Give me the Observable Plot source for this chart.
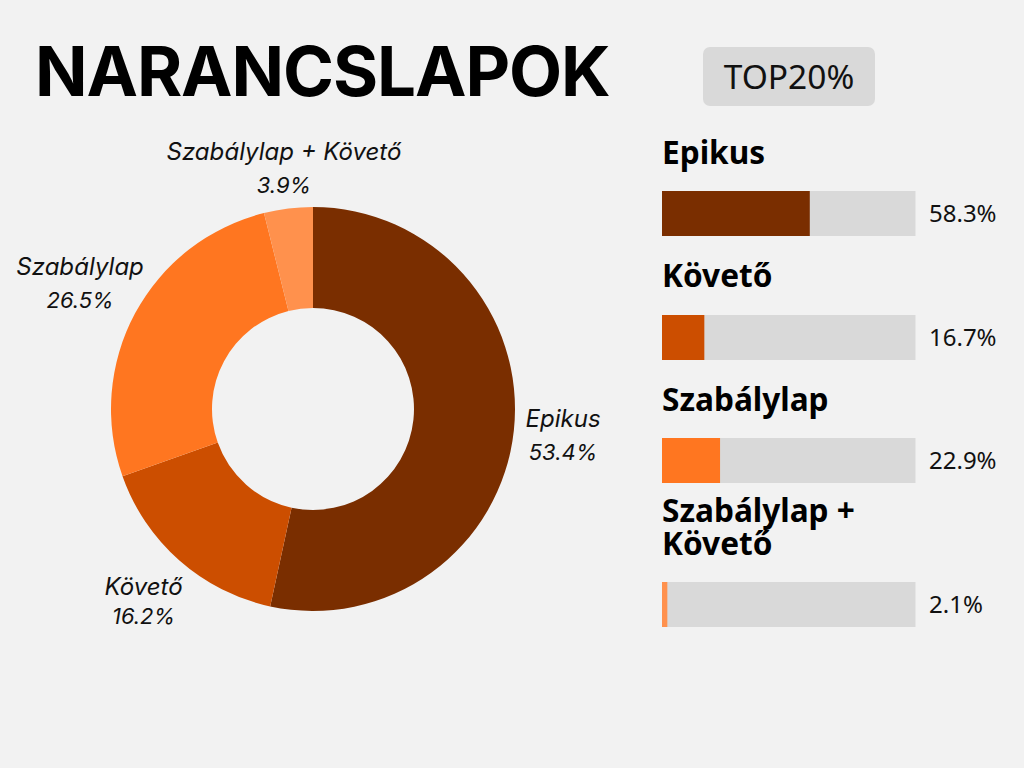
<!DOCTYPE html>
<html lang="hu">
<head>
<meta charset="utf-8">
<title>NARANCSLAPOK</title>
<script src="https://cdn.jsdelivr.net/npm/d3@7"></script>
<script src="https://cdn.jsdelivr.net/npm/@observablehq/plot@0.6"></script>
<style>
html,body{margin:0;padding:0;background:#f2f2f2;}
#page{position:relative;width:1024px;height:768px;background:#f2f2f2;overflow:hidden;color:#000;}
#page > *{position:absolute;}
#title{left:35px;top:26px;font:700 69px/90px Inter,sans-serif;letter-spacing:-1.1px;white-space:nowrap;}
#badge{left:703px;top:47px;width:172px;height:59px;border-radius:7px;background:#d9d9d9;font:400 33.5px/59px "Noto Sans",sans-serif;text-align:center;color:#111;}
.h{left:662px;font:700 31.6px/33px "Noto Sans",sans-serif;white-space:nowrap;}
svg{background:transparent;display:block;}
</style>
</head>
<body>
<div id="page">
  <div id="title"></div>
  <div id="badge"></div>
</div>
<script>
// Data
const titleText = "NARANCSLAPOK";
const badgeText = "TOP20%";
const categories = ["Epikus", "Követő", "Szabálylap", "Szabálylap + Követő"];
const donutValues = [53.4, 16.2, 26.5, 3.9];
const barValues = [58.3, 16.7, 22.9, 2.1];
const colors = ["#7a2e00", "#cc4e00", "#ff7620", "#ff914d"];
const headings = [["Epikus"], ["Követő"], ["Szabálylap"], ["Szabálylap +", "Követő"]];

// Layout
const page = document.getElementById("page");
document.getElementById("title").textContent = titleText;
document.getElementById("badge").textContent = badgeText;
const trackColor = "#d9d9d9";
const labelFont = "Inter, sans-serif";
const valueFont = "'Noto Sans', sans-serif";
const R = 202, r = 101, cx = 313, cy = 409;
const labelRadius = [251, 257, 265, 242];
const labelLead = [33, 29, 33, 34];
const headingTops = [135, 258, 382, 493];
const barTops = [191, 315, 438, 582];
const color = {domain: categories, range: colors};

// Donut
const arcs = d3.pie().sort(null).value(d => d.value)(
  categories.map((name, i) => ({name, value: donutValues[i]}))
);
const arcPath = d3.arc().innerRadius(r).outerRadius(R);
const labels = arcs.map((a, i) => {
  const mid = (a.startAngle + a.endAngle) / 2;
  return {
    name: a.data.name,
    value: a.data.value.toFixed(1) + "%",
    x: labelRadius[i] * Math.sin(mid),
    y: -labelRadius[i] * Math.cos(mid),
    lead: labelLead[i]
  };
});
const donut = Plot.plot({
  width: 1024, height: 768, margin: 0,
  x: {domain: [-cx, 1024 - cx], range: [0, 1024], axis: null},
  y: {domain: [-cy, 768 - cy], range: [0, 768], axis: null},
  color,
  style: {background: "transparent"},
  marks: [
    (index, scales, values, dims, ctx) => {
      const g = d3.create("svg:g")
        .attr("transform", `translate(${scales.x(0)},${scales.y(0)})`);
      g.selectAll("path").data(arcs).join("path")
        .attr("d", arcPath)
        .attr("fill", d => scales.color(d.data.name));
      return g.node();
    },
    labels.flatMap(d => [
      Plot.text([d], {x: "x", y: "y", text: "name", dy: -d.lead / 2, fontSize: 24, fontStyle: "italic", fontFamily: labelFont, fill: "#111"}),
      Plot.text([d], {x: "x", y: "y", text: "value", dy: d.lead / 2, fontSize: 22, fontStyle: "italic", fontFamily: labelFont, fill: "#111"})
    ])
  ]
});
donut.style.left = "0"; donut.style.top = "0";
page.appendChild(donut);

// Bars
categories.forEach((name, i) => {
  const h = document.createElement("div");
  h.className = "h";
  h.style.top = headingTops[i] + "px";
  h.innerHTML = headings[i].join("<br>");
  page.appendChild(h);
  const row = [{name, value: barValues[i]}];
  const p = Plot.plot({
    width: 362, height: 45, margin: 0, marginRight: 108.5,
    x: {domain: [0, 100], axis: null},
    color,
    style: {background: "transparent"},
    marks: [
      Plot.barX([100], {x: d => d, fill: trackColor}),
      Plot.barX(row, {x: "value", fill: "name"}),
      Plot.text(row, {x: () => 100, frameAnchor: "middle", text: d => d.value.toFixed(1) + "%", dx: 13, textAnchor: "start", fontSize: 24, fontFamily: valueFont, fill: "#111"})
    ]
  });
  p.style.left = "662px"; p.style.top = barTops[i] + "px";
  page.appendChild(p);
});
</script>
</body>
</html>
